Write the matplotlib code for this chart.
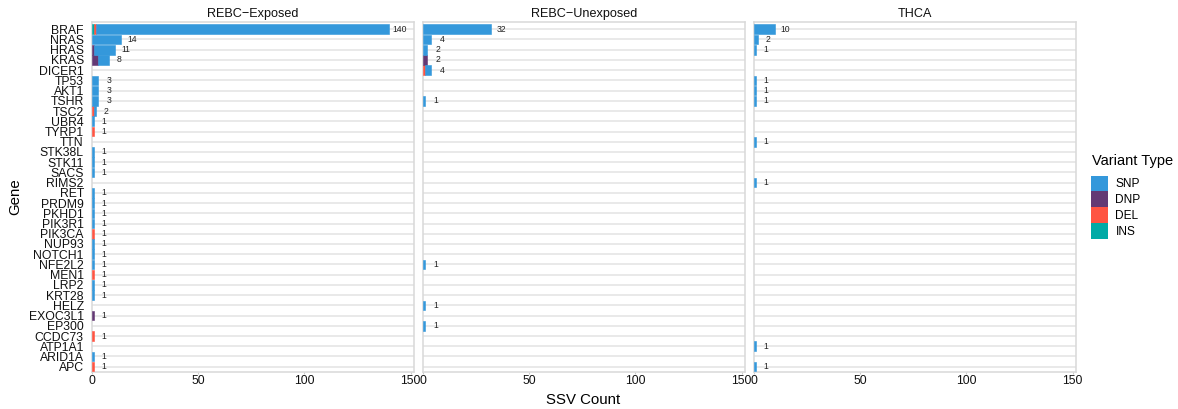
import numpy as np
import matplotlib.pyplot as plt
from matplotlib.patches import Patch

plt.rcParams['font.family'] = ['Liberation Sans', 'DejaVu Sans']

genes = ["BRAF", "NRAS", "HRAS", "KRAS", "DICER1", "TP53", "AKT1", "TSHR", "TSC2",
         "UBR4", "TYRP1", "TTN", "STK38L", "STK11", "SACS", "RIMS2", "RET", "PRDM9",
         "PKHD1", "PIK3R1", "PIK3CA", "NUP93", "NOTCH1", "NFE2L2", "MEN1", "LRP2",
         "KRT28", "HELZ", "EXOC3L1", "EP300", "CCDC73", "ATP1A1", "ARID1A", "APC"]

panels = ["REBC\u2212Exposed", "REBC\u2212Unexposed", "THCA"]
variant_types = ["SNP", "DNP", "DEL", "INS"]
colors = {"SNP": "#3498db", "DNP": "#633974", "DEL": "#ff5442", "INS": "#00aaa6"}

# REBC-Exposed
exp_snp = [138, 14, 10, 5, 0, 3, 3, 3, 1, 1, 0, 0, 1, 1, 1, 0, 1, 1, 1, 1, 0, 1, 1, 1, 0, 1, 1, 0, 0, 0, 0, 0, 1, 0]
exp_dnp = [0, 0, 1, 3, 0, 0, 0, 0, 0, 0, 0, 0, 0, 0, 0, 0, 0, 0, 0, 0, 0, 0, 0, 0, 0, 0, 0, 0, 1, 0, 0, 0, 0, 0]
exp_del = [1, 0, 0, 0, 0, 0, 0, 0, 1, 0, 1, 0, 0, 0, 0, 0, 0, 0, 0, 0, 1, 0, 0, 0, 1, 0, 0, 0, 0, 0, 1, 0, 0, 1]
exp_ins = [1, 0, 0, 0, 0, 0, 0, 0, 0, 0, 0, 0, 0, 0, 0, 0, 0, 0, 0, 0, 0, 0, 0, 0, 0, 0, 0, 0, 0, 0, 0, 0, 0, 0]

# REBC-Unexposed
unexp_snp = [32, 4, 2, 0, 3, 0, 0, 1, 0, 0, 0, 0, 0, 0, 0, 0, 0, 0, 0, 0, 0, 0, 0, 1, 0, 0, 0, 1, 0, 1, 0, 0, 0, 0]
unexp_dnp = [0, 0, 0, 2, 0, 0, 0, 0, 0, 0, 0, 0, 0, 0, 0, 0, 0, 0, 0, 0, 0, 0, 0, 0, 0, 0, 0, 0, 0, 0, 0, 0, 0, 0]
unexp_del = [0, 0, 0, 0, 1, 0, 0, 0, 0, 0, 0, 0, 0, 0, 0, 0, 0, 0, 0, 0, 0, 0, 0, 0, 0, 0, 0, 0, 0, 0, 0, 0, 0, 0]
unexp_ins = [0] * 34

# THCA
thca_snp = [10, 2, 1, 0, 0, 1, 1, 1, 0, 0, 0, 1, 0, 0, 0, 1, 0, 0, 0, 0, 0, 0, 0, 0, 0, 0, 0, 0, 0, 0, 0, 1, 0, 1]
thca_dnp = [0] * 34
thca_del = [0] * 34
thca_ins = [0] * 34

data = [
    {"SNP": exp_snp, "DNP": exp_dnp, "DEL": exp_del, "INS": exp_ins},
    {"SNP": unexp_snp, "DNP": unexp_dnp, "DEL": unexp_del, "INS": unexp_ins},
    {"SNP": thca_snp, "DNP": thca_dnp, "DEL": thca_del, "INS": thca_ins},
]

W, H = 1178, 409
fig = plt.figure(figsize=(W / 100, H / 100), dpi=100)

panel_px = [(91.5, 414), (423, 745), (753.5, 1076)]
top, bottom = 22, 372
y = np.arange(len(genes))
grid_col = "#e3e3e3"

for i, (x0, x1) in enumerate(panel_px):
    ax = fig.add_axes([x0 / W, 1 - bottom / H, (x1 - x0) / W, (bottom - top) / H])
    left = np.zeros(len(genes))
    for g in y:
        ax.axhline(g, color=grid_col, lw=1.1, zorder=0)
    # stack from left: INS, DEL, DNP, SNP
    for vt in ["INS", "DEL", "DNP", "SNP"]:
        vals = np.array(data[i][vt], dtype=float)
        nz = vals > 0
        ax.barh(y[nz], vals[nz], left=left[nz], height=0.94, color=colors[vt],
                edgecolor=colors[vt], lw=0.4, zorder=3)
        left += vals
    for g in y:
        if left[g] > 0:
            ax.text(left[g] + 5, g, str(int(left[g])), ha="center", va="center",
                    fontsize=6.2, color="#222222", zorder=4)
    ax.set_xlim(0, 151.6)
    ax.set_ylim(33.52, -0.71)
    ax.set_xticks([0, 50, 100, 150])
    ax.tick_params(axis="x", length=1.5, width=0.8, color="#cccccc", pad=1,
                   labelsize=8.7, labelcolor="#111111")
    ax.set_yticks(y)
    if i == 0:
        ax.set_yticklabels(genes)
        ax.tick_params(axis="y", length=0, pad=5.5, labelsize=8.8, labelcolor="#111111")
    else:
        ax.set_yticklabels([])
        ax.tick_params(axis="y", length=0)
    for s in ax.spines.values():
        s.set_color("#d9d9d9")
        s.set_linewidth(1.1)
    ax.set_title(panels[i], fontsize=9.1, pad=3.5, color="#111111")

fig.text(583.5 / W, 1 - 400 / H, "SSV Count", ha="center", va="center", fontsize=10.8)
fig.text(15 / W, 1 - 197 / H, "Gene", ha="center", va="center", rotation=90, fontsize=10.8)

fig.text(1092 / W, 1 - 161 / H, "Variant Type", ha="left", va="center", fontsize=10.5)
handles = [Patch(facecolor=colors[vt], edgecolor="none") for vt in variant_types]
fig.legend(handles, variant_types, loc="upper left",
           bbox_to_anchor=(1091 / W, 1 - 175.5 / H), frameon=False,
           fontsize=8.6, handlelength=1.45, handleheight=1.6, labelspacing=0.05,
           handletextpad=0.6, borderpad=0, borderaxespad=0)

fig.savefig("out.png", dpi=100)
